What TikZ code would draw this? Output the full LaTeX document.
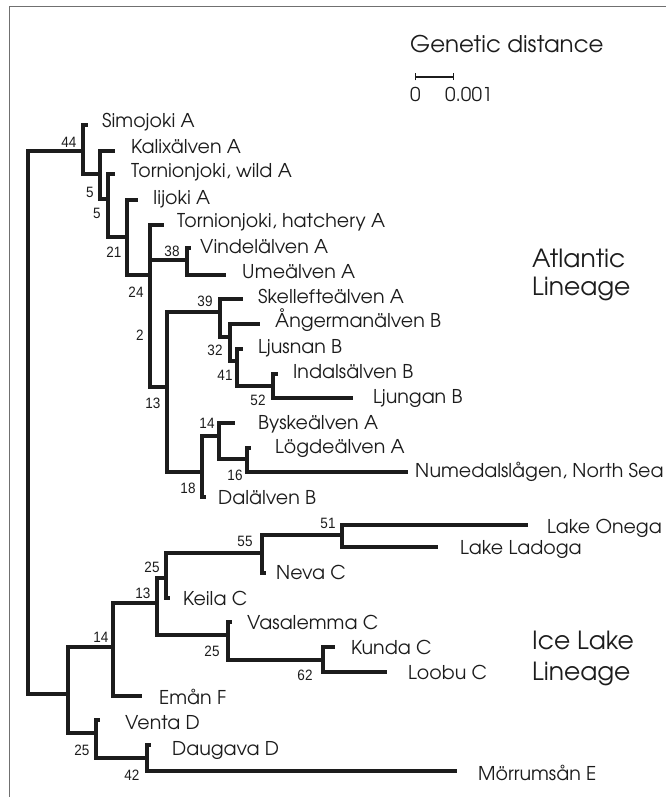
\documentclass[tikz,border=0pt]{standalone}
\usepackage{fontspec}
\setmainfont{texgyreadventor-regular.otf}
\newfontfamily\bootfont[FakeStretch=0.9]{Liberation Sans}
\usepackage{tikz}
\usetikzlibrary{positioning,arrows.meta}
\definecolor{treeink}{HTML}{1C1C1C}
\definecolor{frameink}{HTML}{707070}
\tikzset{
  branch/.style={line width=4pt,draw=treeink},
  leaf/.style={anchor=base west,inner sep=0pt,text=treeink,font=\fontsize{19}{19}\selectfont},
  boot/.style={inner sep=0pt,text=treeink,font=\bootfont\fontsize{15}{15}\selectfont},
  lineage/.style={anchor=base west,inner sep=0pt,text=treeink,font=\fontsize{25}{25}\selectfont},
}

\begin{document}
\begin{tikzpicture}[x=1pt,y=-1pt]
\useasboundingbox (0,0) rectangle (666,797);
% frame, open at right and bottom
\draw[frameink,line width=1pt] (9,797) -- (9,7) -- (666,7);
% scale bar
\node[anchor=base west,inner sep=0pt,text=treeink,font=\fontsize{23}{23}\selectfont] (gdist) at (410,53) {Genetic distance};
\coordinate (sbl) at (415,77);
\coordinate (sbr) at (454,77);
\draw[treeink,line width=1.2pt,{Bar[width=7pt]}-{Bar[width=7pt]}] (sbl) -- (sbr);
\node[leaf] (sbzero) at (410,102) {0};
\node[leaf] (sbone) at (445,102) {0.001};
% internal nodes
\coordinate (root) at (28,422);
\coordinate (n44) at (83,151);
\coordinate (n5a) at (100,174);
\coordinate (n5b) at (108,199);
\coordinate (n21) at (127,237);
\coordinate (n24) at (150,275);
\coordinate (n38) at (187,260);
\coordinate (n13a) at (167,387);
\coordinate (n39) at (220,312);
\coordinate (n32) at (230,337);
\coordinate (n41) at (237,361);
\coordinate (n52) at (273,386);
\coordinate (n18) at (202,472);
\coordinate (n14a) at (219,436);
\coordinate (n16) at (247,459);
\coordinate (n14i) at (68,694);
\coordinate (n13i) at (113,647);
\coordinate (n25b) at (157,603);
\coordinate (n25a) at (166,578);
\coordinate (n55) at (262,553);
\coordinate (n51) at (342,535);
\coordinate (n25v) at (228,635);
\coordinate (n62) at (323,660);
\coordinate (n25c) at (96,733);
\coordinate (n42) at (147,758);
% tips
\coordinate (t-simojoki) at (88,125);
\coordinate (t-kalix) at (115,151);
\coordinate (t-tornwild) at (115,174);
\coordinate (t-iijoki) at (138,200);
\coordinate (t-tornhatch) at (164,225);
\coordinate (t-vindel) at (191,248);
\coordinate (t-ume) at (226,275);
\coordinate (t-skell) at (243,299);
\coordinate (t-anger) at (260,324);
\coordinate (t-ljusnan) at (243,349);
\coordinate (t-indal) at (278,374);
\coordinate (t-ljungan) at (353,398);
\coordinate (t-byske) at (235,423);
\coordinate (t-logde) at (251,448);
\coordinate (t-numedal) at (408,472);
\coordinate (t-dal) at (206,497);
\coordinate (t-onega) at (528,525);
\coordinate (t-ladoga) at (438,547);
\coordinate (t-neva) at (266,573);
\coordinate (t-keila) at (170,598);
\coordinate (t-vasal) at (232,622);
\coordinate (t-kunda) at (335,647);
\coordinate (t-loobu) at (387,672);
\coordinate (t-eman) at (142,696);
\coordinate (t-venta) at (100,720);
\coordinate (t-daugava) at (151,745);
\coordinate (t-morrum) at (457,771);
% branches
\foreach \p/\c in {root/n44,root/n14i,n44/t-simojoki,n44/n5a,n5a/t-kalix,n5a/n5b,
  n5b/t-tornwild,n5b/n21,n21/t-iijoki,n21/n24,n24/t-tornhatch,n24/n38,n24/n13a,
  n38/t-vindel,n38/t-ume,n13a/n39,n13a/n18,n39/t-skell,n39/n32,n32/t-anger,n32/n41,
  n41/t-ljusnan,n41/n52,n52/t-indal,n52/t-ljungan,n18/n14a,n18/t-dal,n14a/t-byske,
  n14a/n16,n16/t-logde,n16/t-numedal,n14i/n13i,n14i/n25c,n13i/n25b,n13i/t-eman,
  n25b/n25a,n25b/n25v,n25a/n55,n25a/t-keila,n55/n51,n55/t-neva,n51/t-onega,
  n51/t-ladoga,n25v/t-vasal,n25v/n62,n62/t-kunda,n62/t-loobu,n25c/t-venta,n25c/n42,
  n42/t-daugava,n42/t-morrum}
  {\draw[branch] (\p) |- (\c);}
% leaf labels
\node[leaf] (l-simojoki) at (102,128) {Simojoki A};
\node[leaf] (l-kalix) at (131,153) {Kalix\"alven A};
\node[leaf] (l-tornwild) at (131,177) {Tornionjoki, wild A};
\node[leaf] (l-iijoki) at (153,204) {Iijoki A};
\node[leaf] (l-tornhatch) at (177,227) {Tornionjoki, hatchery A};
\node[leaf] (l-vindel) at (200,253) {Vindel\"alven A};
\node[leaf] (l-ume) at (242,278) {Ume\"alven A};
\node[leaf] (l-skell) at (258,303) {Skellefte\"alven A};
\node[leaf] (l-anger) at (275,327) {\AA ngerman\"alven B};
\node[leaf] (l-ljusnan) at (258,353) {Ljusnan B};
\node[leaf] (l-indal) at (293,378) {Indals\"alven B};
\node[leaf] (l-ljungan) at (373,403) {Ljungan B};
\node[leaf] (l-byske) at (258,429) {Byske\"alven A};
\node[leaf] (l-logde) at (275,453) {L\"ogde\"alven A};
\node[leaf] (l-numedal) at (415,477) {Numedalsl\aa gen, North Sea};
\node[leaf] (l-dal) at (218,504) {Dal\"alven B};
\node[leaf] (l-onega) at (547,533) {Lake Onega};
\node[leaf] (l-ladoga) at (460,554) {Lake Ladoga};
\node[leaf] (l-neva) at (276,579) {Neva C};
\node[leaf] (l-keila) at (183,605) {Keila C};
\node[leaf] (l-vasal) at (247,629) {Vasalemma C};
\node[leaf] (l-kunda) at (351,654) {Kunda C};
\node[leaf] (l-loobu) at (408,679) {Loobu C};
\node[leaf] (l-eman) at (159,704) {Em\aa n F};
\node[leaf] (l-venta) at (125,729) {Venta D};
\node[leaf] (l-daugava) at (172,755) {Daugava D};
\node[leaf] (l-morrum) at (478,780) {M\"orrums\aa n E};
% bootstrap values
\node[boot] (b44) at (69,142) {44};
\node[boot] (b5a) at (90,192) {5};
\node[boot] (b5b) at (97,213) {5};
\node[boot] (b21) at (114,252) {21};
\node[boot] (b38) at (172,251) {38};
\node[boot] (b24) at (136,292) {24};
\node[boot] (b2) at (140,335) {2};
\node[boot] (b39) at (205,301) {39};
\node[boot] (b32) at (215,350) {32};
\node[boot] (b41) at (225,375) {41};
\node[boot] (b52) at (258,400) {52};
\node[boot] (b13a) at (153,403) {13};
\node[boot] (b14a) at (207,423) {14};
\node[boot] (b16) at (235,475) {16};
\node[boot] (b18) at (188,488) {18};
\node[boot] (b51) at (328,523) {51};
\node[boot] (b55) at (245,541) {55};
\node[boot] (b25a) at (152,567) {25};
\node[boot] (b13i) at (143,593) {13};
\node[boot] (b14i) at (101,637) {14};
\node[boot] (b25v) at (212,651) {25};
\node[boot] (b62) at (305,675) {62};
\node[boot] (b25c) at (82,750) {25};
\node[boot] (b42) at (132,775) {42};
% lineages
\node[lineage] (atl1) at (532,267) {Atlantic};
\node[lineage] (atl2) at (532,295) {Lineage};
\node[lineage] (ice1) at (532,649) {Ice Lake};
\node[lineage] (ice2) at (532,680) {Lineage};
\end{tikzpicture}
\end{document}
